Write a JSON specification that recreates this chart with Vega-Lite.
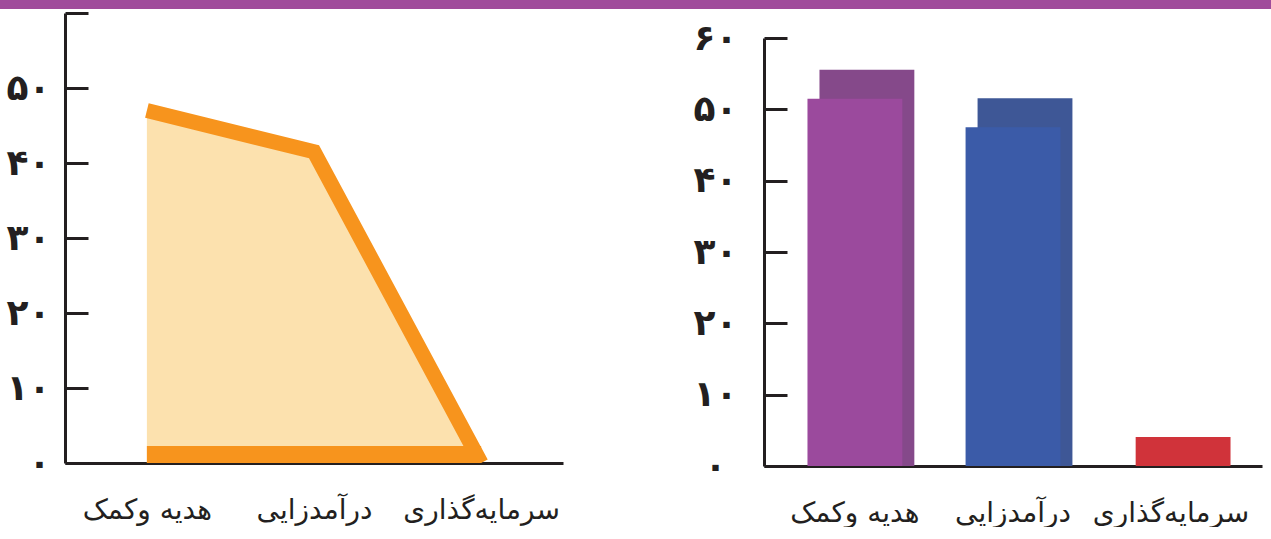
{
  "$schema": "https://vega.github.io/schema/vega-lite/v6.json",
  "padding": 0,
  "background": "white",
  "config": {
    "view": {"stroke": null},
    "font": "DejaVu Sans",
    "axis": {"labelFont": "DejaVu Sans", "labelColor": "#231F20", "domainColor": "#231F20", "tickColor": "#231F20", "domainWidth": 3, "tickWidth": 3, "grid": false, "title": null},
    "axisX": {"ticks": false, "labelFontSize": 28, "labelPadding": 33, "labelAngle": 0},
    "axisY": {"labelFontSize": 36, "labelFontWeight": "bold", "tickSize": -23}
  },
  "datasets": {
    "left": [
      {"cat": "هدیه وکمک", "value": 47},
      {"cat": "درآمدزایی", "value": 41.5},
      {"cat": "سرمایه‌گذاری", "value": 0}
    ],
    "right": [
      {"cat": "هدیه وکمک", "value": 51.5},
      {"cat": "درآمدزایی", "value": 47.5},
      {"cat": "سرمایه‌گذاری", "value": 0}
    ]
  },
  "columns": 1,
  "align": "none",
  "spacing": 0,
  "concat": [
    {
      "width": 1206,
      "height": 9,
      "data": {"values": [{"from": 0, "to": 1}]},
      "mark": {"type": "rect", "color": "#A04B9B", "xOffset": -65, "clip": false},
      "encoding": {
        "x": {"field": "from", "type": "quantitative", "scale": {"domain": [0, 1], "nice": false}, "axis": null},
        "x2": {"field": "to"}
      }
    },
    {
      "spacing": 130,
      "hconcat": [
        {
          "width": 498,
          "height": 450,
          "data": {"name": "left"},
          "encoding": {
            "x": {"field": "cat", "type": "nominal", "sort": ["هدیه وکمک", "درآمدزایی", "سرمایه‌گذاری"], "scale": {"type": "point", "padding": 0.49}, "axis": {"orient": "bottom"}},
            "y": {"field": "value", "type": "quantitative", "scale": {"domain": [0, 60], "nice": false}, "axis": {"values": [0, 10, 20, 30, 40, 50, 60], "labelAlign": "right", "labelPadding": 38, "title": " ", "titleFontSize": 1, "titlePadding": 5, "labelExpr": "datum.value == 0 ? '۰' : datum.value == 10 ? '۱۰' : datum.value == 20 ? '۲۰' : datum.value == 30 ? '۳۰' : datum.value == 40 ? '۴۰' : datum.value == 50 ? '۵۰' : ''"}}
          },
          "layer": [
            {"mark": {"type": "area", "color": "#FCE1AE"}},
            {"mark": {"type": "line", "color": "#F7941D", "strokeWidth": 15, "clip": true, "strokeJoin": "miter"}},
            {"mark": {"type": "line", "color": "#F7941D", "strokeWidth": 17, "yOffset": -8.5, "clip": true}, "encoding": {"y": {"datum": 0}}}
          ]
        },
        {
          "spacing": 0,
          "vconcat": [
            {
              "width": 498,
              "height": 4,
              "data": {"values": [{}]},
              "mark": {"type": "text", "text": ""}
            },
            {
              "width": 498,
              "height": 428,
              "data": {"name": "right"},
              "encoding": {
                "x": {"field": "cat", "type": "nominal", "sort": ["هدیه وکمک", "درآمدزایی", "سرمایه‌گذاری"], "scale": {"type": "band", "paddingInner": 0.4, "paddingOuter": 0.275}, "axis": {"orient": "bottom"}},
                "y": {"field": "value", "type": "quantitative", "scale": {"domain": [0, 60], "nice": false}, "axis": {"values": [0, 10, 20, 30, 40, 50, 60], "labelAlign": "center", "labelPadding": 72, "labelExpr": "datum.value == 0 ? '۰' : datum.value == 10 ? '۱۰' : datum.value == 20 ? '۲۰' : datum.value == 30 ? '۳۰' : datum.value == 40 ? '۴۰' : datum.value == 50 ? '۵۰' : '۶۰'"}}
              },
              "layer": [
                {
                  "mark": {"type": "bar", "xOffset": 12, "yOffset": -29},
                  "encoding": {
                    "y2": {"datum": 0},
                    "color": {"field": "cat", "type": "nominal", "legend": null, "scale": {"domain": ["هدیه وکمک", "درآمدزایی", "سرمایه‌گذاری"], "range": ["#85498A", "#3E5796", "#D0333A"]}}
                  }
                },
                {
                  "mark": {"type": "bar"},
                  "encoding": {"color": {"field": "cat", "type": "nominal", "legend": null, "scale": {"domain": ["هدیه وکمک", "درآمدزایی", "سرمایه‌گذاری"], "range": ["#9B4A9D", "#3B5BA8", "#CF3237"]}}}
                }
              ],
              "resolve": {"scale": {"color": "independent"}}
            }
          ]
        }
      ]
    }
  ]
}
